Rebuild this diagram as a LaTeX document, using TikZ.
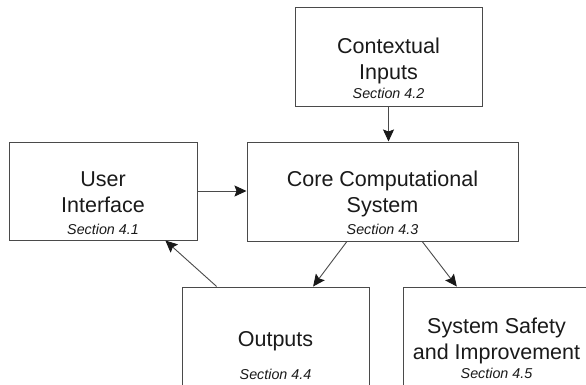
\documentclass[tikz,border=0pt]{standalone}
\usepackage{fontspec}
\setmainfont{Liberation Sans}
\usetikzlibrary{arrows.meta,calc}
\definecolor{edgec}{HTML}{4A4A4A}
\definecolor{textc}{HTML}{1A1A1A}
\tikzset{
  box/.style={draw=edgec, line width=1pt, rectangle, inner sep=0pt, fill=white},
  maintext/.style={anchor=base, inner sep=0pt, text=textc, font=\fontsize{21.5}{24}\selectfont},
  sectext/.style={anchor=base, inner sep=0pt, text=textc, font=\fontsize{14.3}{16}\selectfont\itshape},
  conn/.style={draw=edgec, line width=0.9pt, -{Stealth[length=12pt,width=11pt,inset=2pt,color=black!90]}}
}
\begin{document}
\begin{tikzpicture}[x=1pt,y=-1pt]
\useasboundingbox (0,0) rectangle (586,384);
\fill[white] (0,0) rectangle (586,384);
\clip (0,0) rectangle (586,384);
% boxes
\node[box, minimum width=187pt, minimum height=99pt] (ci) at (388.5,56.5) {};
\node[box, minimum width=188pt, minimum height=98pt] (ui) at (103,191) {};
\node[box, minimum width=271pt, minimum height=99pt] (core) at (382.5,191.5) {};
\node[box, minimum width=187pt, minimum height=99pt] (out) at (275.5,336.5) {};
\node[box, minimum width=187pt, minimum height=99pt] (safe) at (496.5,336.5) {};
% texts
\node[maintext] (ci1) at (388.5,53) {Contextual};
\node[maintext] (ci2) at (388.5,79) {Inputs};
\node[sectext]  (ci3) at (388.5,98) {Section 4.2};
\node[maintext] (ui1) at (103,186.5) {User};
\node[maintext] (ui2) at (103,212.5) {Interface};
\node[sectext]  (ui3) at (103,234) {Section 4.1};
\node[maintext] (co1) at (382.5,186) {Core Computational};
\node[maintext] (co2) at (382.5,212) {System};
\node[sectext]  (co3) at (382.5,234) {Section 4.3};
\node[maintext] (ou1) at (275.5,346.5) {Outputs};
\node[sectext]  (ou3) at (275.5,379) {Section 4.4};
\node[maintext] (sa1) at (496.5,333) {System Safety};
\node[maintext] (sa2) at (496.5,359) {and Improvement};
\node[sectext]  (sa3) at (496.5,378) {Section 4.5};
% connectors
\draw[conn] (ci.south) -- (ci.south |- core.north);
\draw[conn] (ui.east) -- (ui.east -| core.west);
\draw[conn] ($(core.south west)!0.369!(core.south east)$) -- ($(out.north west)!0.70!(out.north east)$);
\draw[conn] ($(core.south west)!0.646!(core.south east)$) -- ($(safe.north west)!0.289!(safe.north east)$);
\draw[conn] ($(out.north west)!0.187!(out.north east)$) -- ($(ui.south west)!0.83!(ui.south east)$);
\end{tikzpicture}
\end{document}
